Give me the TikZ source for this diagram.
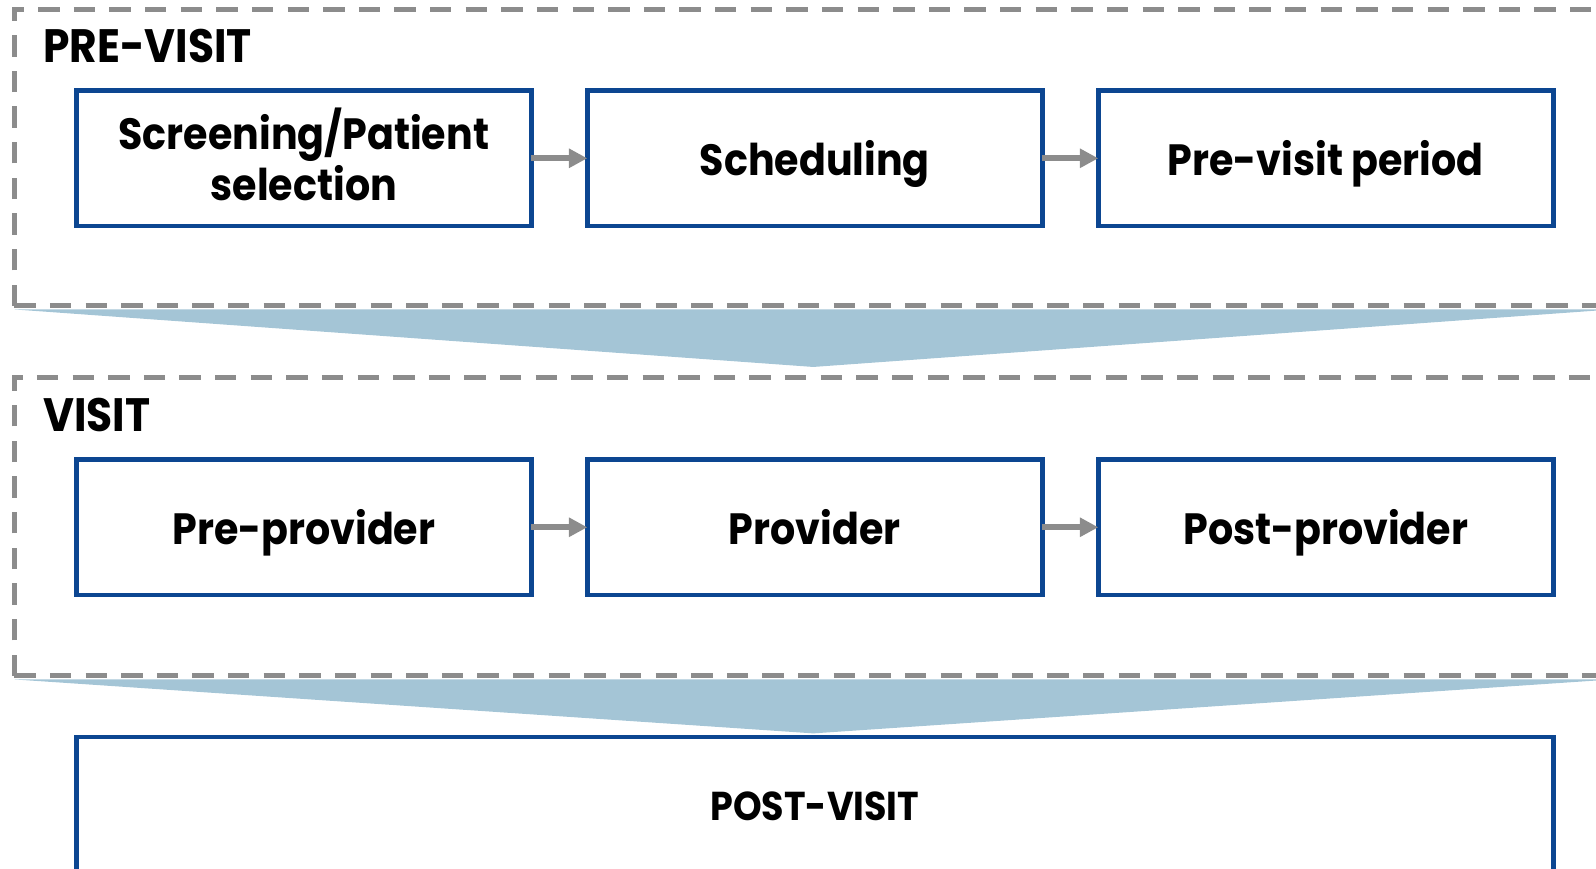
\documentclass[tikz,border=0pt]{standalone}
\usepackage{fontspec}
\setmainfont{Poppins}[FakeStretch=0.905]
\usetikzlibrary{arrows.meta}
\definecolor{dashgray}{RGB}{140,140,140}
\definecolor{boxblue}{RGB}{12,70,145}
\definecolor{funnel}{RGB}{164,197,214}
\definecolor{arrgray}{RGB}{140,140,140}
\tikzset{
  container/.style={draw=dashgray, line width=2.5pt, dash pattern=on 10.5pt off 7pt},
  stagebox/.style={draw=boxblue, line width=2.25pt, fill=white, rectangle, inner sep=0pt, outer sep=0pt,
    minimum width=223.5pt, minimum height=66.5pt, align=center,
    text height=17pt, text depth=0pt,
    font=\fontsize{21.5pt}{25pt}\selectfont\bfseries},
  twoline/.style={text height=41pt, text depth=0pt},
  phasetitle/.style={anchor=base west, inner sep=0pt, font=\fontsize{23pt}{25pt}\selectfont\bfseries},
  flow/.style={draw=arrgray, line width=2.95pt, -{Triangle[length=9pt,width=9pt]}},
  funnelshape/.style={fill=funnel, draw=none}
}
\begin{document}
\begin{tikzpicture}[x=0.5pt,y=-0.5pt]
\useasboundingbox (0,0) rectangle (1568,853.7);
\clip (0,0) rectangle (1568,853.7);
% containers
\draw[container] (14,300.5) -- (14,9) -- (1620,9);
\draw[container] (14,300.5) -- (1620,300.5);
\draw[container] (14,664) -- (14,371.3) -- (1620,371.3);
\draw[container] (14,664) -- (1620,664);
% funnels
\fill[funnelshape] (14,304) -- (1584,304) -- (799,360.5) -- cycle;
\fill[funnelshape] (14,667.5) -- (1584,667.5) -- (799,720.5) -- cycle;
% titles
\node[phasetitle] (pretitle) at (42,61) {PRE-VISIT};
\node[phasetitle] (visittitle) at (42,424) {VISIT};
% row 1
\node[stagebox, twoline] (screen) at (298.5,155.5) {Screening/Patient\\selection};
\node[stagebox] (sched) at (800.5,155.5) {Scheduling};
\node[stagebox] (previsit) at (1302.5,155.5) {Pre-visit period};
% row 2
\node[stagebox] (preprov) at (298.5,518) {Pre-provider};
\node[stagebox] (prov) at (800.5,518) {Provider};
\node[stagebox] (postprov) at (1302.5,518) {Post-provider};
% post visit
\node[stagebox, minimum width=725.5pt, minimum height=100pt] (post) at (800.5,824) {};
\node[anchor=base, inner sep=0pt, font=\fontsize{19.8pt}{22pt}\selectfont\bfseries] (posttext) at (800.5,806) {POST-VISIT};
% arrows
\draw[flow] (screen) -- (sched);
\draw[flow] (sched) -- (previsit);
\draw[flow] (preprov) -- (prov);
\draw[flow] (prov) -- (postprov);
\end{tikzpicture}
\end{document}
